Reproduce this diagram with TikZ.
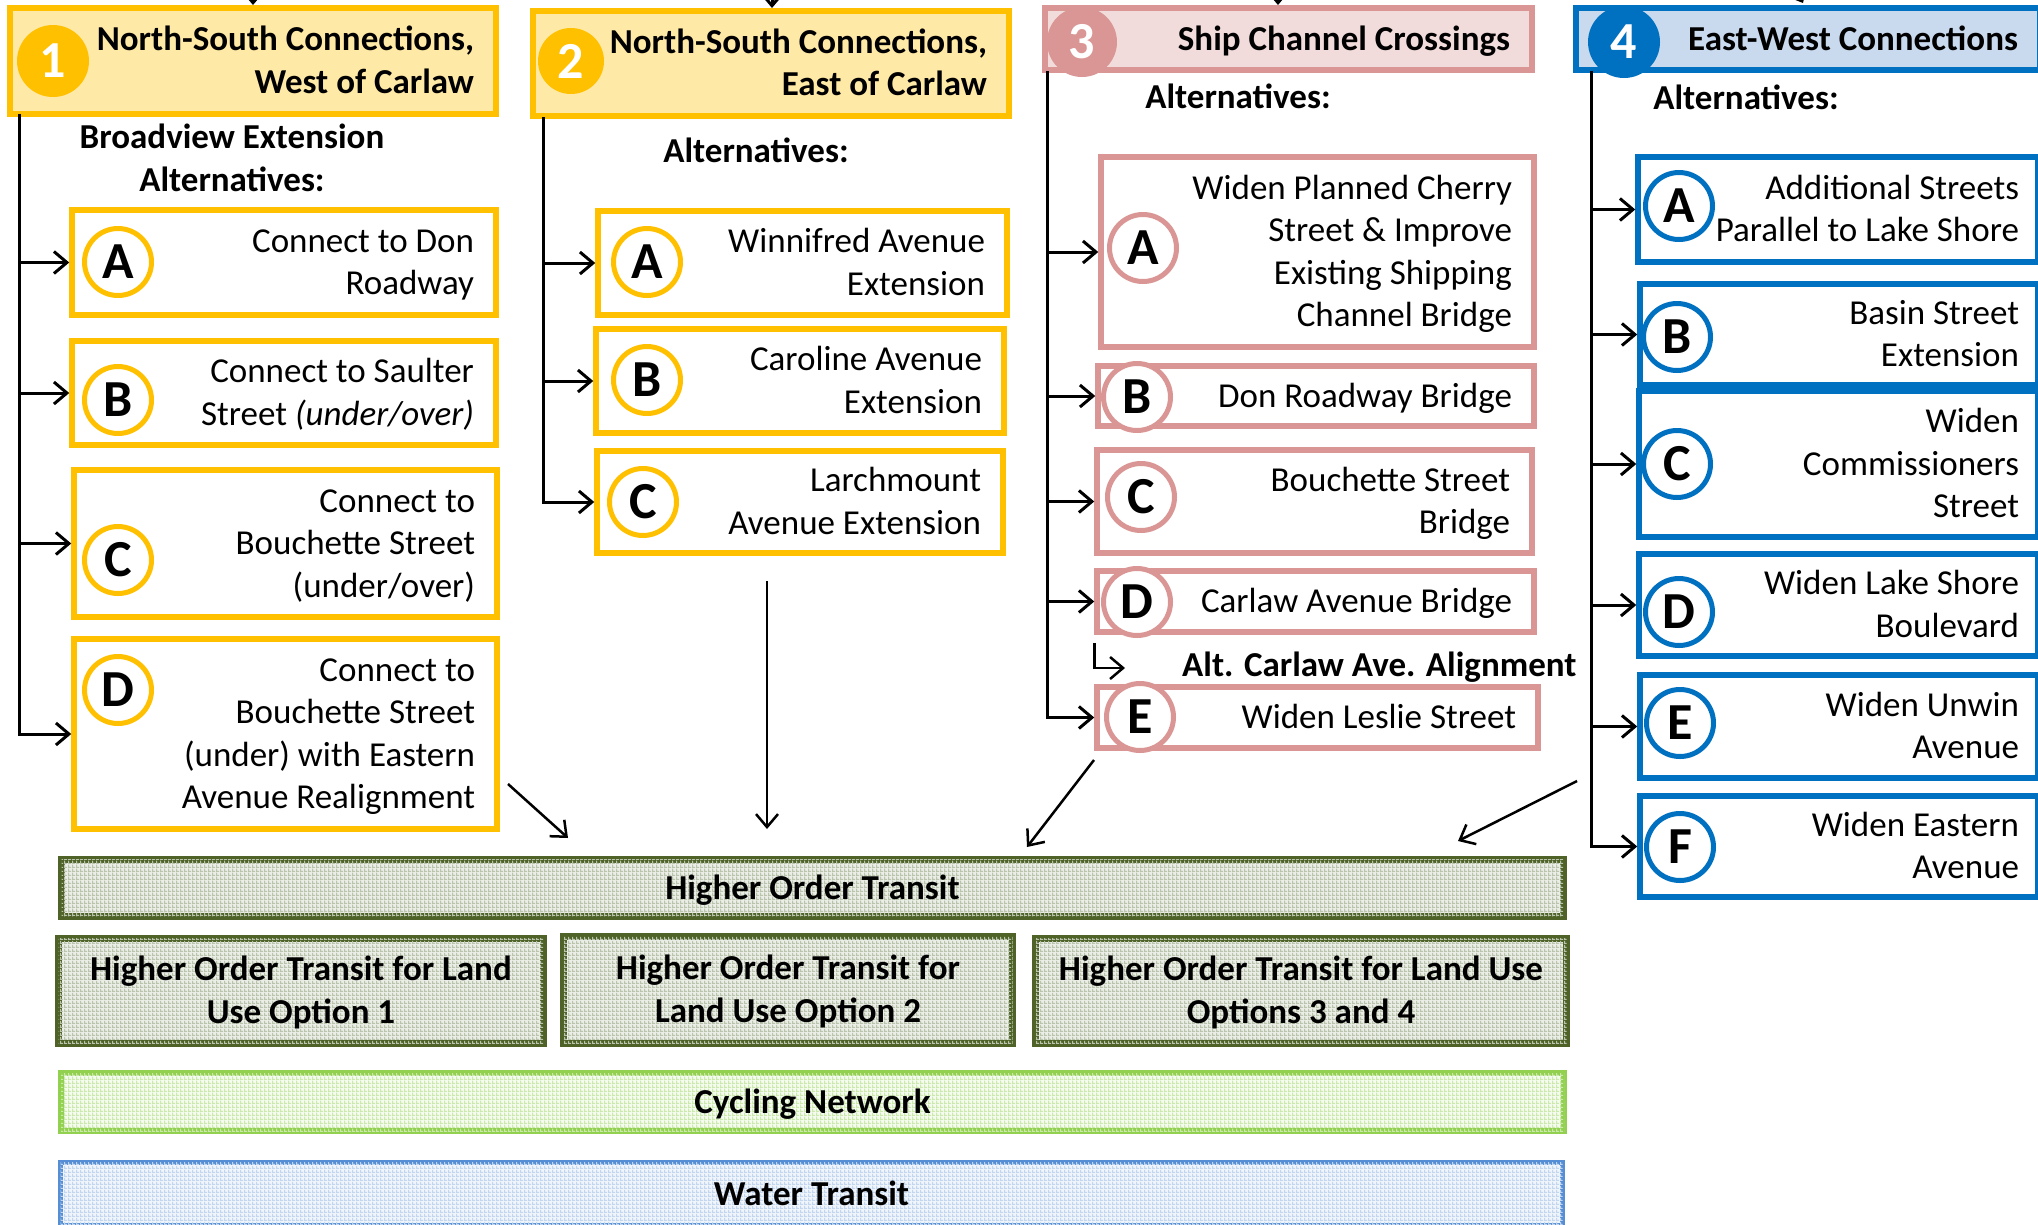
\documentclass[tikz,border=0pt]{standalone}
\usepackage{fontspec}
\setmainfont{Carlito}
\usetikzlibrary{arrows.meta,patterns}
\pgfdeclarepatternformonly{mygrid}{\pgfqpoint{0pt}{0pt}}{\pgfqpoint{4pt}{4pt}}{\pgfqpoint{4pt}{4pt}}{%
  \pgfpathrectangle{\pgfqpoint{0pt}{0pt}}{\pgfqpoint{4pt}{1.3pt}}%
  \pgfpathrectangle{\pgfqpoint{0pt}{0pt}}{\pgfqpoint{1.3pt}{4pt}}%
  \pgfusepath{fill}}
\definecolor{yel}{HTML}{FFC000}
\definecolor{yelfill}{HTML}{FFE9A6}
\definecolor{pnk}{HTML}{D99694}
\definecolor{pnkfill}{HTML}{F2DCDB}
\definecolor{blu}{HTML}{0070C0}
\definecolor{blufill}{HTML}{C9D9EE}
\definecolor{olive}{HTML}{4F6228}
\definecolor{hotfill}{HTML}{EBEEE6}
\definecolor{hotpat}{HTML}{BAC4AC}
\definecolor{cyc}{HTML}{92D050}
\definecolor{cycfill}{HTML}{F6FBF0}
\definecolor{cycpat}{HTML}{CBE9AD}
\definecolor{wat}{HTML}{558ED5}
\definecolor{watfill}{HTML}{F0F5FB}
\definecolor{watpat}{HTML}{C3D6F0}
\newcommand\bodyfont{\fontsize{35}{42.5}\selectfont}
\newcommand\boldfont{\fontsize{35}{42.5}\selectfont\bfseries}
\newcommand\letterfont{\fontsize{52}{60}\selectfont\bfseries}
\newcommand\topstrut{\rule{0pt}{32pt}}
\newcommand\botstrut{\rule[-10pt]{0pt}{10pt}}
\tikzset{
  struts/.style={execute at begin node={\spaceskip=0pt\xspaceskip=0pt\topstrut}, execute at end node={\botstrut}},
  abox/.style={draw=#1, line width=5.5pt, fill=white, inner xsep=22pt, inner ysep=0pt, align=flush right, font=\bodyfont, struts},
  hdrbox/.style 2 args={draw=#1, fill=#2, line width=6pt, inner xsep=22pt, inner ysep=0pt, align=flush right, font=\boldfont, struts},
  acirc/.style={circle, draw=#1, line width=5pt, fill=white, minimum size=67pt, inner sep=0pt, font=\letterfont},
  hcirc/.style={circle, fill=#1, minimum size=72pt, inner sep=0pt, text=white, font=\letterfont},
  tbox/.style n args={3}{draw=#1, fill=#2, line width=6pt, postaction={pattern=mygrid, pattern color=#3}, align=flush center, font=\boldfont, inner sep=0pt, struts},
  arr/.style={line width=3pt, -{Straight Barb[length=13pt,width=22pt]}},
  lab/.style={font=\boldfont, align=center, inner sep=0pt},
}
\begin{document}
\begin{tikzpicture}[x=1pt, y=-1pt]
\useasboundingbox (0,0) rectangle (2038,1224);
\fill[white] (0,0) rectangle (2038,1224);
\clip (0,0) rectangle (2038,1224);

% ---------- headers ----------
\node[hdrbox={yel}{yelfill}, minimum width=486pt, minimum height=106pt, text width=442pt] (h1) at (253,61) {North-South Connections,\\West of Carlaw};
\node[hcirc=yel] (c1) at (53,61) {1};
\node[hdrbox={yel}{yelfill}, minimum width=476pt, minimum height=105pt, text width=432pt] (h2) at (771,63.5) {North-South Connections,\\East of Carlaw};
\node[hcirc=yel, minimum size=66pt] (c2) at (571,61) {2};
\node[hdrbox={pnk}{pnkfill}, minimum width=487pt, minimum height=62pt, text width=443pt] (h3) at (1288.5,39) {Ship Channel Crossings};
\node[hcirc=pnk, minimum size=70pt] (c3) at (1082,42) {3};
\node[hdrbox={blu}{blufill}, minimum width=464pt, minimum height=62pt, text width=420pt] (h4) at (1808,39) {East-West Connections};
\node[hcirc=blu] (c4) at (1624,42) {4};

% ---------- sub labels ----------
\node[lab] (lab1) at (232,158) {Broadview Extension\\Alternatives:};
\node[lab, anchor=base] (lab2) at (756,162) {Alternatives:};
\node[lab, anchor=base] (lab3) at (1238,108) {Alternatives:};
\node[lab, anchor=base] (lab4) at (1746,109) {Alternatives:};
\node[lab, anchor=base west] (alt) at (1182,676) {Alt. Carlaw Ave. Alignment};

% ---------- section 1 ----------
\node[abox=yel, minimum width=424pt, minimum height=105pt, text width=380pt] (b1A) at (284,262.5) {Connect to Don\\Roadway};
\node[abox=yel, minimum width=424pt, minimum height=104pt, text width=380pt] (b1B) at (284,393) {Connect to Saulter\\Street \textit{(under/over)}};
\node[abox=yel, minimum width=423pt, minimum height=147pt, text width=379pt] (b1C) at (285.5,543.5) {Connect to\\Bouchette Street\\(under/over)};
\node[abox=yel, minimum width=423pt, minimum height=190pt, text width=379pt] (b1D) at (285.5,734) {Connect to\\Bouchette Street\\(under) with Eastern\\Avenue Realignment};
\node[acirc=yel] (c1A) at (118,262) {A};
\node[acirc=yel] (c1B) at (118,400) {B};
\node[acirc=yel] (c1C) at (118,560) {C};
\node[acirc=yel] (c1D) at (118,690) {D};

% ---------- section 2 ----------
\node[abox=yel, minimum width=409pt, minimum height=104pt, text width=365pt] (b2A) at (802.5,263) {Winnifred Avenue\\Extension};
\node[abox=yel, minimum width=408pt, minimum height=104pt, text width=364pt] (b2B) at (800,381) {Caroline Avenue\\Extension};
\node[abox=yel, minimum width=406pt, minimum height=102pt, text width=362pt] (b2C) at (800,502) {Larchmount\\Avenue Extension};
\node[acirc=yel] (c2A) at (647,262) {A};
\node[acirc=yel] (c2B) at (647,380) {B};
\node[acirc=yel] (c2C) at (643,502) {C};

% ---------- section 3 ----------
\node[abox=pnk, minimum width=433pt, minimum height=190pt, text width=389pt] (b3A) at (1317.5,252) {Widen Planned Cherry\\Street \& Improve\\Existing Shipping\\Channel Bridge};
\node[abox=pnk, minimum width=436pt, minimum height=60pt, text width=392pt] (b3B) at (1316,396) {Don Roadway Bridge};
\node[abox=pnk, minimum width=435pt, minimum height=103pt, text width=391pt] (b3C) at (1314.5,501.5) {Bouchette Street\\Bridge};
\node[abox=pnk, minimum width=437pt, minimum height=61pt, text width=393pt] (b3D) at (1315.5,601.5) {Carlaw Avenue Bridge};
\node[abox=pnk, minimum width=441pt, minimum height=61pt, text width=397pt] (b3E) at (1317.5,717.5) {Widen Leslie Street};
\node[acirc=pnk] (c3A) at (1143,248) {A};
\node[acirc=pnk] (c3B) at (1137,397) {B};
\node[acirc=pnk] (c3C) at (1141,497) {C};
\node[acirc=pnk] (c3D) at (1137,602) {D};
\node[acirc=pnk] (c3E) at (1140,717) {E};

% ---------- section 4 ----------
\node[abox=blu, inner xsep=19pt, minimum width=400pt, minimum height=105pt, text width=362pt] (b4A) at (1838,209.5) {Additional Streets\\Parallel to Lake Shore};
\node[abox=blu, inner xsep=19pt, minimum width=398pt, minimum height=101pt, text width=360pt] (b4B) at (1839,334.5) {Basin Street\\Extension};
\node[abox=blu, inner xsep=19pt, minimum width=399pt, minimum height=146pt, text width=361pt] (b4C) at (1838.5,464) {Widen\\Commissioners\\Street};
\node[abox=blu, inner xsep=19pt, minimum width=399pt, minimum height=102pt, text width=361pt] (b4D) at (1838.5,605) {Widen Lake Shore\\Boulevard};
\node[abox=blu, inner xsep=19pt, minimum width=398pt, minimum height=103pt, text width=360pt] (b4E) at (1839,726.5) {Widen Unwin\\Avenue};
\node[abox=blu, inner xsep=19pt, minimum width=398pt, minimum height=101pt, text width=360pt] (b4F) at (1839,846.5) {Widen Eastern\\Avenue};
\node[acirc=blu] (c4A) at (1679,206) {A};
\node[acirc=blu] (c4B) at (1677,337) {B};
\node[acirc=blu] (c4C) at (1677,464) {C};
\node[acirc=blu] (c4D) at (1679,612) {D};
\node[acirc=blu] (c4E) at (1680,723) {E};
\node[acirc=blu] (c4F) at (1680,847) {F};

% ---------- bottom bars ----------
\node[tbox={olive}{hotfill}{hotpat}, line width=7pt, minimum width=1502pt, minimum height=57pt, text width=1480pt] (hot) at (812.5,888) {Higher Order Transit};
\node[tbox={olive}{hotfill}{hotpat}, line width=7pt, minimum width=485pt, minimum height=105pt, text width=470pt] (hot1) at (301,991) {Higher Order Transit for Land\\Use Option 1};
\node[tbox={olive}{hotfill}{hotpat}, line width=7pt, minimum width=449pt, minimum height=107pt, text width=435pt] (hot2) at (788,990) {Higher Order Transit for\\Land Use Option 2};
\node[tbox={olive}{hotfill}{hotpat}, line width=7pt, minimum width=531pt, minimum height=105pt, text width=515pt] (hot34) at (1301,991) {Higher Order Transit for Land Use\\Options 3 and 4};
\node[tbox={cyc}{cycfill}{cycpat}, minimum width=1503pt, minimum height=58pt, text width=1480pt] (cycn) at (812.5,1102) {Cycling Network};
\node[tbox={wat}{watfill}{watpat}, line width=5pt, minimum width=1502pt, minimum height=63pt, text width=1480pt] (watn) at (811.5,1194) {Water Transit};

% ---------- spines and branches ----------
\coordinate (v1) at (19,114);
\coordinate (v2) at (543,117);
\coordinate (v3) at (1047,71);
\coordinate (v4) at (1591,71);
\draw[arr] (v1) |- (b1D.west);
\draw[arr] (v1 |- b1A.west) -- (b1A.west);
\draw[arr] (v1 |- b1B.west) -- (b1B.west);
\draw[arr] (v1 |- b1C.west) -- (b1C.west);
\draw[arr] (v2) |- (b2C.west);
\draw[arr] (v2 |- b2A.west) -- (b2A.west);
\draw[arr] (v2 |- b2B.west) -- (b2B.west);
\draw[arr] (v3) |- (b3E.west);
\draw[arr] (v3 |- b3A.west) -- (b3A.west);
\draw[arr] (v3 |- b3B.west) -- (b3B.west);
\draw[arr] (v3 |- b3C.west) -- (b3C.west);
\draw[arr] (v3 |- b3D.west) -- (b3D.west);
\draw[arr] (v4) |- (b4F.west);
\draw[arr] (v4 |- b4A.west) -- (b4A.west);
\draw[arr] (v4 |- b4B.west) -- (b4B.west);
\draw[arr] (v4 |- b4C.west) -- (b4C.west);
\draw[arr] (v4 |- b4D.west) -- (b4D.west);
\draw[arr] (v4 |- b4E.west) -- (b4E.west);
% alt alignment bent arrow
\coordinate (altend) at (1125,668);
\draw[arr, line width=2.5pt] ([yshift=-8pt]b3D.south west) |- (altend);

% ---------- arrows into Higher Order Transit ----------
\coordinate (d1s) at (508,784); \coordinate (d1e) at (568,838);
\coordinate (d2s) at (767,581); \coordinate (d2e) at (767,829);
\coordinate (d3s) at (1094,760); \coordinate (d3e) at (1027,847);
\coordinate (d4s) at (1577,781); \coordinate (d4e) at (1458,841);
\draw[arr, line width=2.5pt] (d1s) -- (d1e);
\draw[arr, line width=2.5pt] (d2s) -- (d2e);
\draw[arr, line width=2.5pt] (d3s) -- (d3e);
\draw[arr, line width=2.5pt] (d4s) -- (d4e);

% ---------- arrows entering headers from above (cut off) ----------
\coordinate (in1) at (253,-40);
\coordinate (in2) at (772,-40);
\coordinate (in3) at (1278,-40);
\coordinate (in4) at (1780,-40);
\draw[arr] (in1) -- (in1 |- h1.north);
\draw[arr] (in2) -- (in2 |- h2.north);
\draw[arr] (in3) -- (in3 |- h3.north);
\draw[arr] (in4) -- (1803,3);
\end{tikzpicture}
\end{document}
